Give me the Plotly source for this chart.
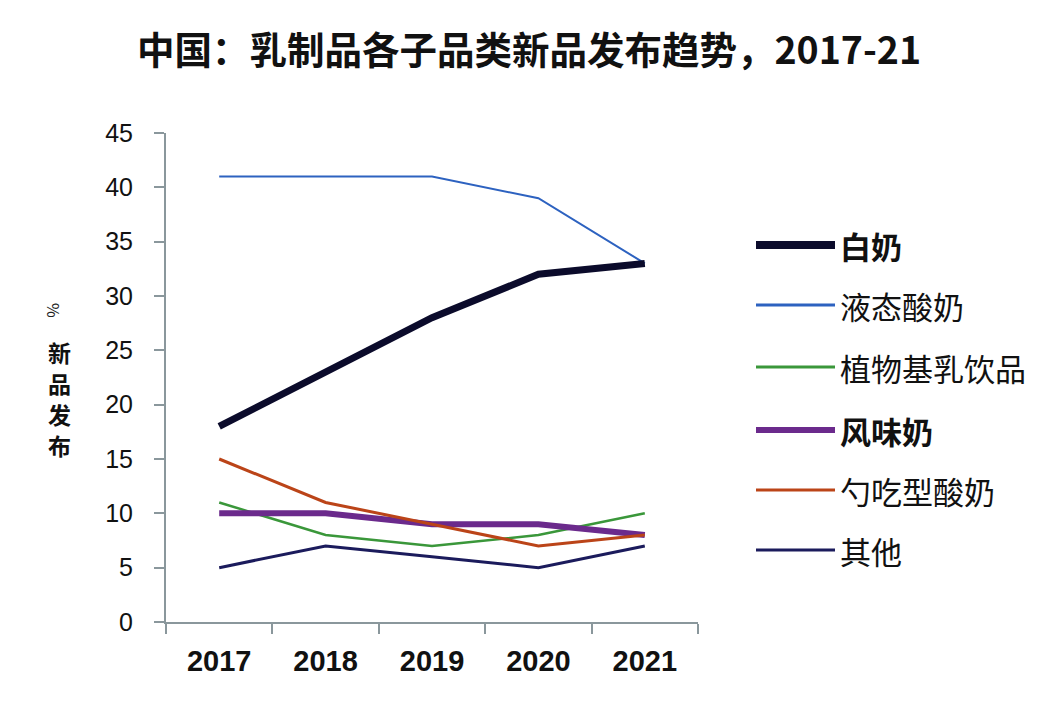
import plotly.graph_objects as go

years = ["2017", "2018", "2019", "2020", "2021"]
series_names = ["白奶", "液态酸奶", "植物基乳饮品", "风味奶", "勺吃型酸奶", "其他"]
white_milk = [18, 23, 28, 32, 33]
liquid_yogurt = [41, 41, 41, 39, 33]
plant_based = [11, 8, 7, 8, 10]
flavored_milk = [10, 10, 9, 9, 8]
spoon_yogurt = [15, 11, 9, 7, 8]
others = [5, 7, 6, 5, 7]

values = [white_milk, liquid_yogurt, plant_based, flavored_milk, spoon_yogurt, others]
colors = ["#0b0b2b", "#2d62c0", "#3a973a", "#6b2a8c", "#bb4418", "#1b1b5c"]
widths = [7, 2, 2.5, 6, 3, 3]
leg_widths = [8, 3, 3, 6, 3, 3]

FONT = "Noto Sans CJK SC"
fig = go.Figure()
order = [1, 2, 5, 3, 4, 0]
for i in order:
    fig.add_trace(go.Scatter(x=years, y=values[i], mode="lines", name=series_names[i],
                             line=dict(color=colors[i], width=widths[i]), showlegend=False))

W, H = 1064, 709
OFF = 8  # page body margin
l, r, t, b = 158, 374, 125, 95
pw, ph = W - l - r, H - t - b


def px(xs):
    return (xs - OFF - l) / pw


def py(ys):
    return (H - b - (ys - OFF)) / ph


AX = "#8a979c"
fig.update_layout(
    width=W, height=H,
    margin=dict(l=l, r=r, t=t, b=b),
    paper_bgcolor="white", plot_bgcolor="white",
    font=dict(family=FONT, color="#111"),
    title=dict(text="<b>中国：乳制品各子品类新品发布趋势，2017-21</b>", xanchor="center",
               xref="paper", x=px(529), y=1 - (51 - OFF) / H, yanchor="middle",
               font=dict(size=37.5, family=FONT, color="#111")),
)
fig.update_xaxes(type="category", range=[-0.5, 4.5], showgrid=False, showline=True,
                 linecolor=AX, linewidth=2, ticks="outside", tickson="boundaries",
                 ticklen=10, tickcolor=AX, tickwidth=2,
                 tickvals=years, ticktext=[f"<b>{y}</b>" for y in years],
                 ticklabelstandoff=12,
                 tickfont=dict(size=29, family="Liberation Sans", color="#111"))
fig.update_yaxes(range=[0, 45], dtick=5, showgrid=False, showline=True, zeroline=False,
                 linecolor=AX, linewidth=2, ticks="outside", ticklen=10,
                 tickcolor=AX, tickwidth=2, ticklabelstandoff=16,
                 tickfont=dict(size=25, family="Liberation Sans", color="#111"))

# y-axis title: rotated % and stacked upright characters
fig.add_annotation(text="%", xref="paper", yref="paper", x=px(54), y=py(310),
                   xanchor="center", yanchor="middle",
                   showarrow=False, textangle=90, font=dict(size=16, family=FONT, color="#222"))
for k, ch in enumerate("新品发布"):
    fig.add_annotation(text=f"<b>{ch}</b>", xref="paper", yref="paper",
                       x=px(59), y=py(352 + 31 * k), xanchor="center", yanchor="middle",
                       showarrow=False, borderpad=0,
                       font=dict(size=23, family=FONT, color="#111"))

# manual legend
leg_y = [245, 305, 367, 430, 490, 550]
for i, name in enumerate(series_names):
    yp = py(leg_y[i])
    fig.add_shape(type="line", xref="paper", yref="paper",
                  x0=px(756), x1=px(835), y0=yp, y1=yp,
                  line=dict(color=colors[i], width=leg_widths[i]))
    txt = f"<b>{name}</b>" if i in (0, 3) else name
    fig.add_annotation(text=txt, xref="paper", yref="paper", x=px(838), y=yp,
                       xanchor="left", yanchor="middle", showarrow=False,
                       font=dict(size=31, family=FONT, color="#111"))

fig.write_html("out.html")
